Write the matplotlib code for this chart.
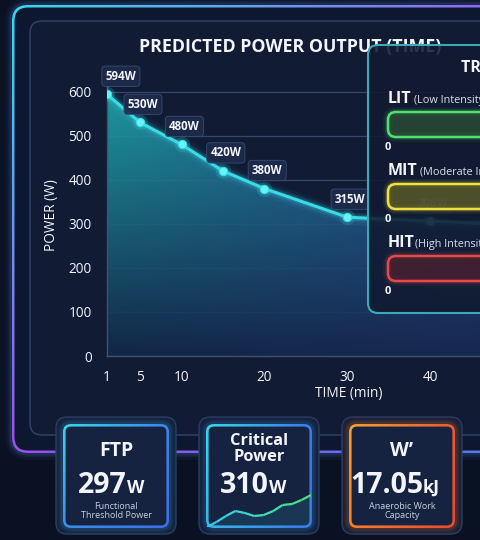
import matplotlib.pyplot as plt
import matplotlib.colors as mcolors
import numpy as np
from matplotlib.collections import LineCollection
from matplotlib.patches import FancyBboxPatch

# ── Data ──────────────────────────────────────────────────────────────────────
minutes = [1, 5, 10, 15, 20, 30, 40, 60]
power = [594, 530, 480, 420, 380, 315, 306, 290]
x_ticks = [1, 5, 10, 20, 30, 40]
y_ticks = [0, 100, 200, 300, 400, 500, 600]

zones = ["LIT", "MIT", "HIT"]
zone_names = ["(Low Intensity Training)", "(Moderate Intensity Training)",
              "(High Intensity Training)"]
zone_values = [0, 0, 0]

card_titles = ["FTP", "Critical\nPower", "W\u2019"]
card_values = ["297", "310", "17.05"]
card_units = ["W", "W", "kJ"]
card_notes = ["Functional\nThreshold Power", "", "Anaerobic Work\nCapacity"]
spark = [0, 5, 11, 16, 14, 11, 12, 16, 22, 23, 27, 32]

# ── Palette ───────────────────────────────────────────────────────────────────
BG = "#0a1122"
TXT = "#f2f5fc"
LINE = "#38dbe6"

plt.rcParams["font.family"] = ["Open Sans", "DejaVu Sans"]

W, H = 480, 540
fig = plt.figure(figsize=(4.8, 5.4), dpi=100)
fig.patch.set_facecolor(BG)


def px_axes(z):
    a = fig.add_axes([0, 0, 1, 1], zorder=z)
    a.set_xlim(0, W)
    a.set_ylim(H, 0)
    a.axis("off")
    a.patch.set_alpha(0)
    return a


def rbox(ax, x, y, w, h, r, **kw):
    p = FancyBboxPatch((x, y), w, h,
                       boxstyle=f"round,pad=0,rounding_size={r}", **kw)
    ax.add_patch(p)
    return p


def grad_fill(ax, clip, extent, corners, z, alpha=1.0, transform=None):
    tl, tr, bl, br = [np.array(mcolors.to_rgba(c)) for c in corners]
    u = np.linspace(0, 1, 64)[None, :, None]
    v = np.linspace(0, 1, 64)[:, None, None]
    img = (1 - v) * ((1 - u) * tl + u * tr) + v * ((1 - u) * bl + u * br)
    im = ax.imshow(img, extent=extent, origin="upper", aspect="auto",
                   zorder=z, interpolation="bilinear", alpha=alpha)
    if transform is None:
        im.set_clip_path(clip)
    else:
        im.set_clip_path(clip, transform=transform)
    return im


def grad_border(ax, x, y, w, h, r, t, corners, face, z, glow):
    outer = rbox(ax, x, y, w, h, r, fc="none", ec="none", zorder=z)
    grad_fill(ax, outer, (x, x + w, y + h, y), corners, z)
    rbox(ax, x + t, y + t, w - 2 * t, h - 2 * t, max(r - t, 1),
         fc=face, ec="none", zorder=z + 0.1)
    for lw, a in [(10, 0.05), (6, 0.08), (3.5, 0.12)]:
        rbox(ax, x, y, w, h, r, fc="none", ec=glow, lw=lw, alpha=a,
             zorder=z - 0.1)
    ax.set_xlim(0, W)
    ax.set_ylim(H, 0)


bg = px_axes(0)
fg = px_axes(5)

# ── Frames ────────────────────────────────────────────────────────────────────
grad_border(bg, 12, 5, 530, 448, 16, 2.5,
            ["#3ad8ec", "#9c5cf0", "#9a50e6", "#4a80f0"], "#0d1730", 1,
            "#5a8cf0")
rbox(bg, 30, 21, 520, 414, 12, fc="#111b34", ec="#2f4066", lw=1.1, zorder=2)
bg.text(290, 47, "PREDICTED POWER OUTPUT (TIME)", ha="center", va="center",
        color=TXT, fontsize=12.8, fontweight="bold", zorder=3)

# ── Power curve ───────────────────────────────────────────────────────────────
ax = fig.add_axes([107 / W, (H - 356) / H, (513 - 107) / W, (356 - 74) / H],
                  zorder=2)
ax.patch.set_alpha(0)

poly = ax.fill_between(minutes, power, 0, color="none")
grad_fill(ax, poly.get_paths()[0], (1, 60, 0, 640),
          ["#20aeb2", "#3050b0", "#13284a", "#1a2a58"], 1, alpha=0.9,
          transform=ax.transData)
ax.set_xlim(1, 50)
ax.set_ylim(0, 640)

for lw, a in [(11, 0.05), (7, 0.1), (4.5, 0.18)]:
    ax.plot(minutes, power, color=LINE, lw=lw, alpha=a,
            solid_capstyle="round", zorder=3)
ax.plot(minutes, power, color=LINE, lw=2.2, zorder=4)
ax.plot(minutes, power, "o", ms=11, color=LINE, alpha=0.18, mec="none",
        zorder=4)
ax.plot(minutes, power, "o", ms=6, color="#6af3f5", mec="#38dbe6", mew=0.8,
        zorder=5)

for i, (m, p) in enumerate(zip(minutes, power)):
    dx = 10 if i == 0 else 2
    ax.annotate(f"{p}W", (m, p), xytext=(dx, 13), textcoords="offset points",
                ha="center", va="center", color=TXT, fontsize=8.3,
                fontweight="bold", zorder=6,
                bbox=dict(boxstyle="round,pad=0.32", fc="#1d2b4a",
                          ec="#3b4f78", lw=0.6, alpha=0.92))

ax.set_xticks(x_ticks)
ax.set_xticklabels([str(t) for t in x_ticks])
ax.set_yticks(y_ticks)
ax.grid(axis="y", color="#34466c", lw=0.9)
ax.set_axisbelow(True)
ax.tick_params(length=0, colors=TXT, labelsize=9.8)
ax.tick_params(axis="x", pad=10)
ax.tick_params(axis="y", pad=11)
for s in ["top", "right"]:
    ax.spines[s].set_visible(False)
for s in ["left", "bottom"]:
    ax.spines[s].set_color("#3f5070")
    ax.spines[s].set_linewidth(1)
ax.set_ylabel("POWER (W)", color=TXT, fontsize=9.8, labelpad=7)
ax.set_xlabel("TIME (min)", color=TXT, fontsize=9.8)
ax.xaxis.set_label_coords((349 - 107) / (513 - 107), -37 / 282)
ax.xaxis.label.set_va("center")

# ── Training zones panel ──────────────────────────────────────────────────────
rbox(fg, 368, 45, 170, 268, 10, fc=(0.066, 0.10, 0.19, 0.88),
     ec="#3aaabb", lw=1.5, zorder=1)
fg.text(461, 68, "TRAINING ZONES", ha="left", va="center", color=TXT,
        fontsize=11.5, fontweight="bold", zorder=3)

zone_edge = ["#4fe06e", "#f0e23e", "#e84848"]
zone_face = [(0.17, 0.32, 0.22, 0.75), (0.38, 0.38, 0.16, 0.75),
             (0.30, 0.13, 0.19, 0.75)]
zone_y = [103, 175, 247]
zone_gap = [414, 420, 415]
for name, full, val, ec, fc, yb, gx in zip(zones, zone_names, zone_values,
                                           zone_edge, zone_face, zone_y,
                                           zone_gap):
    fg.text(388, yb, name, ha="left", va="baseline", color=TXT, fontsize=11.5,
            fontweight="bold", zorder=3)
    fg.text(gx, yb, full, ha="left", va="baseline", color="#d8deea",
            fontsize=7.8, zorder=3)
    for lw, a in [(7, 0.08), (4, 0.15)]:
        rbox(fg, 388, yb + 9, 150, 25, 8, fc="none", ec=ec, lw=lw, alpha=a,
             zorder=2)
    rbox(fg, 388, yb + 9, 150, 25, 8, fc=fc, ec=ec, lw=1.8, zorder=2.1)
    fg.text(388, yb + 44, str(val), ha="center", va="center", color=TXT,
            fontsize=8, fontweight="bold", zorder=3)

# ── Metric cards ──────────────────────────────────────────────────────────────
card_x = [56, 199, 342]
card_grad = [["#3ad6e6", "#3a86e8", "#3a8ee6", "#3a6ee8"],
             ["#3ad6e6", "#3a7ae8", "#3ab4e6", "#3a70e8"],
             ["#f2a030", "#ea5a34", "#f08030", "#e84a30"]]
card_glow = ["#3aa8e8", "#3a90e8", "#f07030"]
num_right = [127, 269, 423]
for i, cx in enumerate(card_x):
    rbox(fg, cx, 417, 120, 117, 11, fc="#131e37", ec="#2a3d62", lw=1,
         zorder=3)
    grad_border(fg, cx + 7, 424, 106, 104, 8, 2.6, card_grad[i], "#152340",
                4, card_glow[i])
    mid = cx + 60
    if "\n" in card_titles[i]:
        fg.text(mid, 449, card_titles[i], ha="center", va="center",
                color=TXT, fontsize=11.8, fontweight="bold", zorder=6,
                linespacing=0.95)
    else:
        fg.text(mid, 451, card_titles[i], ha="center", va="center",
                color=TXT, fontsize=14, fontweight="bold", zorder=6)
    fg.text(num_right[i], 493, card_values[i], ha="right", va="baseline",
            color=TXT, fontsize=20.5, fontweight="bold", zorder=6)
    fg.text(num_right[i], 493, card_units[i], ha="left", va="baseline",
            color=TXT, fontsize=13, fontweight="bold", zorder=6)
    if card_notes[i]:
        fg.text(mid, 511, card_notes[i], ha="center", va="center",
                color="#c8d0de", fontsize=6.5, zorder=6, linespacing=1.1)

# sparkline inside the Critical Power card
sp = fig.add_axes([207 / W, (H - 527) / H, 104 / W, 36 / H], zorder=7)
sp.axis("off")
sp.patch.set_alpha(0)
sx = np.arange(len(spark))
pts = np.column_stack([sx, spark]).reshape(-1, 1, 2)
segs = np.concatenate([pts[:-1], pts[1:]], axis=1)
cmap = mcolors.LinearSegmentedColormap.from_list("sp", ["#38c8f0", "#3ae0c0",
                                                        "#4ee07a"])
lc = LineCollection(segs, colors=cmap(np.linspace(0, 1, len(segs))), lw=1.6)
sp.add_collection(lc)
sp.fill_between(sx, spark, 0, color="#38c8f0", alpha=0.12, lw=0)
sp.set_xlim(0, len(spark) - 1)
sp.set_ylim(0, 36)

fig.savefig("out.png", dpi=100, facecolor=BG)
